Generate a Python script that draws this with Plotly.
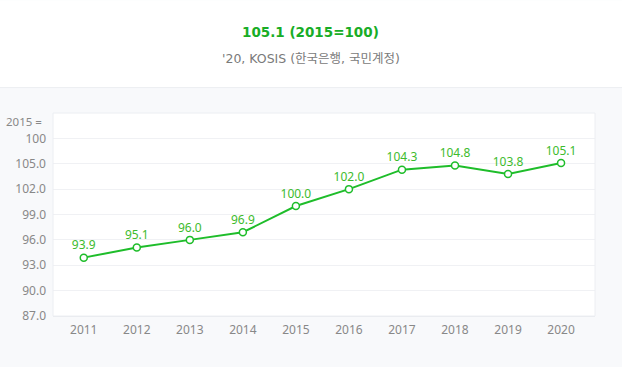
import plotly.graph_objects as go

years = [2011, 2012, 2013, 2014, 2015, 2016, 2017, 2018, 2019, 2020]
values = [93.9, 95.1, 96.0, 96.9, 100.0, 102.0, 104.3, 104.8, 103.8, 105.1]
y_ticks = [87, 90, 93, 96, 99, 102, 105, 108]
y_ticktext = ["87.0", "90.0", "93.0", "96.0", "99.0", "102.0", "105.0", "100"]
title = "105.1 (2015=100)"
subtitle = "'20, KOSIS (한국은행, 국민계정)"
unit_label = "2015 ="

FONT = "Noto Sans, Noto Sans CJK KR, sans-serif"
TFONT = "DejaVu Sans, Noto Sans CJK KR, sans-serif"
GREEN = "#1ebd2a"

fig = go.Figure()
fig.add_trace(go.Scatter(
    x=years, y=values,
    mode="lines+markers+text",
    text=[f"{v:.1f}" for v in values],
    textposition="top center",
    textfont=dict(color="#3dbb2c", size=12, family=FONT),
    line=dict(color=GREEN, width=2),
    marker=dict(size=7, color="white", line=dict(color=GREEN, width=1.5)),
    cliponaxis=False,
    hoverinfo="skip",
))

PH = 203.5
PW = 542
fig.update_layout(
    width=622, height=367,
    margin=dict(l=53, r=27, t=113, b=51),
    paper_bgcolor="#f8f9fb",
    plot_bgcolor="white",
    showlegend=False,
    font=dict(family=FONT, color="#888888", size=12),
    xaxis=dict(
        range=[2010.42, 2020.64],
        tickvals=years,
        ticktext=[str(y) for y in years],
        showgrid=False, zeroline=False,
        showline=True, linecolor="#e8eaee", linewidth=1,
        ticks="", ticklen=0, ticklabelstandoff=3,
        tickfont=dict(size=12, color="#888888"),
        fixedrange=True,
    ),
    yaxis=dict(
        range=[87, 111],
        tickvals=y_ticks,
        ticktext=y_ticktext,
        showgrid=True, gridcolor="#f0f1f4", gridwidth=1,
        zeroline=False, showline=False,
        ticks="", ticklabelstandoff=6,
        tickfont=dict(size=12, color="#888888"),
        fixedrange=True,
    ),
    shapes=[
        dict(type="rect", xref="paper", yref="paper", x0=-0.2, x1=1.2, y0=1.0 + (113 - 87) / PH, y1=1.0 + 113 / PH,
             fillcolor="white", line=dict(width=0), layer="below"),
        dict(type="line", xref="paper", yref="paper", x0=-0.2, x1=1.2,
             y0=1.0 + (113 - 87.5) / PH, y1=1.0 + (113 - 87.5) / PH,
             line=dict(color="#eceef2", width=1)),
        dict(type="rect", xref="paper", yref="paper", x0=0, x1=1, y0=0, y1=1,
             fillcolor="rgba(0,0,0,0)", line=dict(color="#eceef2", width=1)),
    ],
    annotations=[
        dict(text=f"<b>{title}</b>", xref="paper", yref="paper", x=(310.5 - 53) / PW, y=1.0 + (113 - 32) / PH,
             showarrow=False, font=dict(size=13.5, color="#18ad26", family=TFONT), xanchor="center", yanchor="middle"),
        dict(text=subtitle, xref="paper", yref="paper", x=(311 - 53) / PW, y=1.0 + (113 - 58) / PH,
             showarrow=False, font=dict(size=12.5, color="#7a7a7a", family=TFONT), xanchor="center", yanchor="middle"),
        dict(text=unit_label, xref="paper", yref="paper", x=(44 - 53) / PW, y=1.0 + (113 - 122) / PH,
             showarrow=False, font=dict(size=11.5, color="#888888", family=FONT), xanchor="right", yanchor="middle"),
    ],
)

fig.write_html(
    "out.html",
    config={"displayModeBar": False, "staticPlot": True},
    post_script="document.body.style.margin='0';document.body.style.background='#f8f9fb';",
)
